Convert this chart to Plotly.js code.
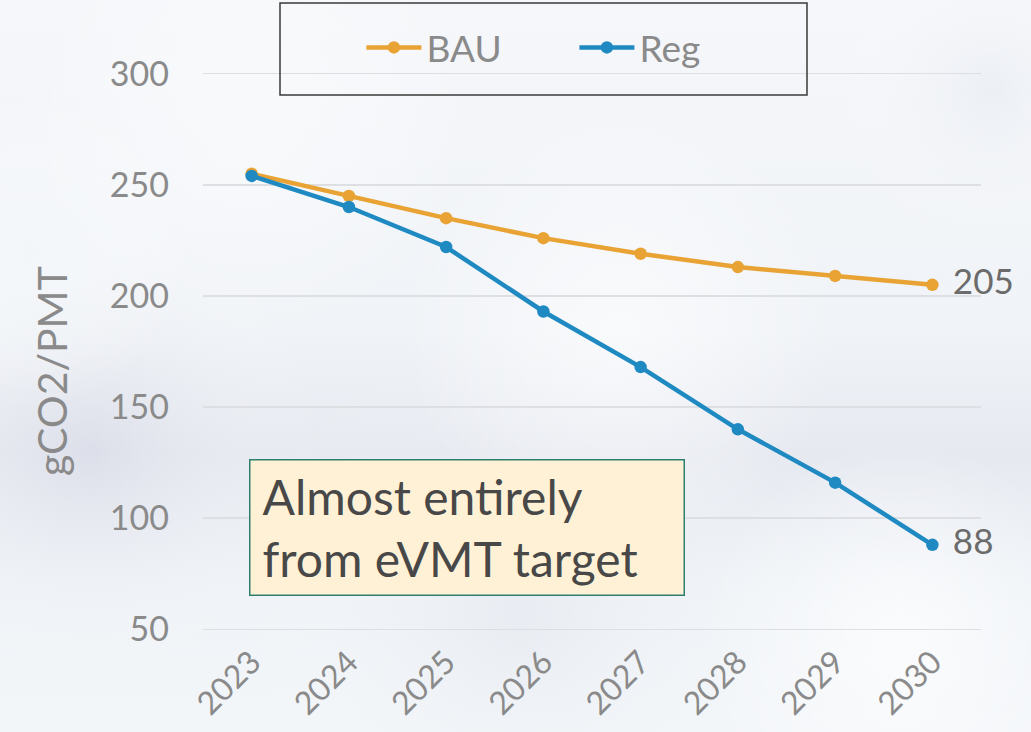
<!DOCTYPE html>
<html>
<head>
<meta charset="utf-8">
<script src="https://cdn.plot.ly/plotly-3.0.1.min.js"></script>
<style>
html,body{margin:0;padding:0;background:#f3f5f9;}
#chart{width:1031px;height:732px;}
</style>
</head>
<body>
<div id="chart"></div>
<script>
const years = ["2023","2024","2025","2026","2027","2028","2029","2030"];
const bau = [255, 245, 235, 226, 219, 213, 209, 205];
const reg = [254, 240, 222, 193, 168, 140, 116, 88];
const yTicks = [50, 100, 150, 200, 250, 300];
const endLabel = (arr) => arr.map((v, i) => i === arr.length - 1 ? '\u2004' + v : "");

const FONT = "Lato, 'Noto Sans', sans-serif";

// soft background image generated locally
function makeBg() {
  const c = document.createElement('canvas');
  c.width = 1031; c.height = 732;
  const g = c.getContext('2d');
  const lin = g.createLinearGradient(0, 0, 0, 732);
  lin.addColorStop(0, '#f5f7fa');
  lin.addColorStop(0.45, '#f0f3f7');
  lin.addColorStop(0.62, '#e6e9f0');
  lin.addColorStop(0.8, '#eff3f7');
  lin.addColorStop(1, '#f3f6f9');
  g.fillStyle = lin; g.fillRect(0, 0, 1031, 732);
  function blob(x, y, r, col) {
    const rg = g.createRadialGradient(x, y, 0, x, y, r);
    rg.addColorStop(0, col); rg.addColorStop(1, 'rgba(255,255,255,0)');
    g.fillStyle = rg; g.fillRect(0, 0, 1031, 732);
  }
  blob(90, 450, 240, 'rgba(208,211,225,0.45)');
  blob(520, 620, 300, 'rgba(218,222,232,0.35)');
  blob(620, 330, 220, 'rgba(255,255,255,0.6)');
  blob(900, 640, 200, 'rgba(255,255,255,0.7)');
  blob(990, 90, 160, 'rgba(226,230,238,0.45)');
  blob(250, 120, 220, 'rgba(250,252,253,0.6)');
  blob(30, 250, 160, 'rgba(244,248,250,0.6)');
  return c.toDataURL('image/png');
}

const axisFont = {family: FONT, size: 34, color: '#8a8a8a'};
const labelFont = {family: FONT, size: 35, color: '#6b6b6b'};

const traces = [
  {
    x: years, y: bau, name: 'BAU', type: 'scatter', mode: 'lines+markers+text',
    line: {color: '#E8A334', width: 4.5},
    marker: {color: '#E8A334', size: 12.5},
    text: endLabel(bau), textposition: 'middle right', textfont: labelFont,
    cliponaxis: false
  },
  {
    x: years, y: reg, name: 'Reg', type: 'scatter', mode: 'lines+markers+text',
    line: {color: '#1F8AC2', width: 4.5},
    marker: {color: '#1F8AC2', size: 12.5},
    text: endLabel(reg), textposition: 'middle right', textfont: labelFont,
    cliponaxis: false
  }
];

const layout = {
  width: 1031, height: 732,
  margin: {l: 203, r: 50, t: 7, b: 96},
  paper_bgcolor: 'rgba(0,0,0,0)',
  plot_bgcolor: 'rgba(0,0,0,0)',
  font: {family: FONT, color: '#8a8a8a'},
  showlegend: true,
  legend: {
    orientation: 'h', x: 0.2036, xanchor: 'left', y: 0.935, yanchor: 'middle',
    xref: 'paper', yref: 'paper',
    bgcolor: 'rgba(0,0,0,0)', borderwidth: 0,
    font: {family: FONT, size: 37, color: '#8a8a8a'},
    itemwidth: 55, entrywidth: 143, entrywidthmode: 'pixels',
    traceorder: 'normal'
  },
  xaxis: {
    type: 'category', range: [-0.5, 7.5],
    tickangle: -45, tickfont: {family: FONT, size: 32, color: '#8a8a8a'},
    showgrid: false, zeroline: false, showline: false, ticks: '',
    fixedrange: true
  },
  yaxis: {
    range: [47, 330], tickvals: yTicks, ticktext: yTicks.map(String),
    tickfont: axisFont, ticks: '', ticklen: 0, ticklabelstandoff: 33,
    showgrid: true, gridcolor: '#dedfe2', gridwidth: 1.5,
    zeroline: false, showline: false,
    fixedrange: true
  },
  shapes: [
    {type: 'rect', xref: 'paper', yref: 'paper',
     x0: (280 - 203) / 778, x1: (807 - 203) / 778,
     y0: (636 - 95) / 629, y1: (636 - 3) / 629,
     line: {color: '#3a3a3a', width: 1.5}, fillcolor: 'rgba(0,0,0,0)', layer: 'above'}
  ],
  annotations: [
    {xref: 'paper', yref: 'paper', x: (51 - 203) / 778, y: (636 - 371) / 629,
     xanchor: 'center', yanchor: 'middle', showarrow: false, textangle: -90,
     text: 'gCO2/PMT', font: {family: FONT, size: 41, color: '#8a8a8a'}},
    {xref: 'paper', yref: 'paper', x: (466.5 - 203) / 778, y: (636 - 527) / 629,
     xanchor: 'center', yanchor: 'middle', showarrow: false, align: 'left',
     text: '\u2009\u2009Almost entirely<br>\u2009\u2009from eVMT target',
     font: {family: FONT, size: 48, color: '#484848'},
     bgcolor: '#FFF1D6', bordercolor: '#2E7E6E', borderwidth: 1.5, borderpad: 0,
     width: 433, height: 134}
  ],
  images: [
    {source: makeBg(), xref: 'paper', yref: 'paper', x: -203/778, y: 1 + 7/629,
     sizex: 1031/778, sizey: 732/629, sizing: 'stretch', xanchor: 'left', yanchor: 'top', layer: 'below'}
  ]
};

Plotly.newPlot('chart', traces, layout, {displayModeBar: false, staticPlot: true});
</script>
</body>
</html>
